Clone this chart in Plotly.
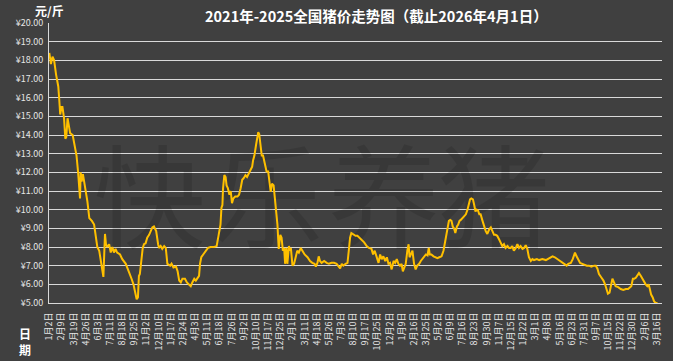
import plotly.graph_objects as go
from datetime import date

# ---------------- data ----------------
dates = [
    "2021-01-02","2021-01-07","2021-01-12","2021-01-17","2021-01-23","2021-01-26","2021-01-30",
    "2021-02-02","2021-02-05","2021-02-09","2021-02-12","2021-02-17","2021-02-21","2021-02-24","2021-02-28",
    "2021-03-04","2021-03-08","2021-03-16","2021-03-23","2021-03-28",
    "2021-04-02","2021-04-06","2021-04-08","2021-04-10","2021-04-13","2021-04-17","2021-04-20","2021-04-26",
    "2021-05-01","2021-05-07","2021-05-15","2021-05-22","2021-05-27",
    "2021-06-01","2021-06-07","2021-06-12","2021-06-17","2021-06-20","2021-06-23","2021-06-25","2021-06-28",
    "2021-07-02","2021-07-08","2021-07-13","2021-07-18","2021-07-23","2021-07-28",
    "2021-08-02","2021-08-11","2021-08-18","2021-08-29",
    "2021-09-08","2021-09-16","2021-09-22","2021-09-27",
    "2021-10-02","2021-10-06","2021-10-09","2021-10-12","2021-10-17","2021-10-21","2021-10-25","2021-10-30",
    "2021-11-04","2021-11-10","2021-11-15","2021-11-20","2021-11-25",
    "2021-12-02","2021-12-08","2021-12-11","2021-12-16","2021-12-21","2021-12-27",
    "2022-01-01","2022-01-06","2022-01-15","2022-01-19","2022-01-25",
    "2022-02-02","2022-02-07","2022-02-12","2022-02-17","2022-02-22",
    "2022-03-02","2022-03-08","2022-03-15","2022-03-20","2022-03-25","2022-03-31",
    "2022-04-05","2022-04-10","2022-04-15","2022-04-18","2022-04-22","2022-04-28",
    "2022-05-06","2022-05-13","2022-05-21",
    "2022-06-01","2022-06-09","2022-06-13","2022-06-17","2022-06-21","2022-06-24","2022-06-27","2022-06-29",
    "2022-07-03","2022-07-07","2022-07-10","2022-07-14","2022-07-19","2022-07-23","2022-07-27","2022-07-31",
    "2022-08-06","2022-08-13","2022-08-18","2022-08-23","2022-08-28",
    "2022-09-02","2022-09-07","2022-09-12","2022-09-18","2022-09-23","2022-09-28",
    "2022-10-01","2022-10-05","2022-10-10","2022-10-14","2022-10-17","2022-10-20","2022-10-24","2022-10-28",
    "2022-11-01","2022-11-04","2022-11-08","2022-11-12","2022-11-17","2022-11-21","2022-11-25","2022-11-29",
    "2022-12-04","2022-12-08","2022-12-12","2022-12-16","2022-12-20","2022-12-25","2022-12-29",
    "2023-01-02","2023-01-06","2023-01-09","2023-01-13","2023-01-16","2023-01-21","2023-01-24","2023-01-27",
    "2023-02-01","2023-02-06","2023-02-11","2023-02-16","2023-02-21","2023-02-27",
    "2023-03-04","2023-03-11","2023-03-20","2023-03-28",
    "2023-04-04","2023-04-11","2023-04-15","2023-04-20","2023-04-24","2023-04-28",
    "2023-05-03","2023-05-11","2023-05-19","2023-05-26",
    "2023-06-03","2023-06-11","2023-06-19","2023-06-24","2023-06-30",
    "2023-07-05","2023-07-10","2023-07-17","2023-07-23","2023-07-27","2023-07-31",
    "2023-08-04","2023-08-11","2023-08-17","2023-08-23","2023-08-29",
    "2023-09-05","2023-09-13","2023-09-21","2023-09-28",
    "2023-10-06","2023-10-11","2023-10-16","2023-10-23","2023-10-28",
    "2023-11-02","2023-11-07","2023-11-12","2023-11-18","2023-11-23","2023-11-28",
    "2023-12-03","2023-12-08","2023-12-14","2023-12-19","2023-12-24","2023-12-29",
    "2024-01-03","2024-01-08","2024-01-12","2024-01-21","2024-01-26","2024-01-30",
    "2024-02-02","2024-02-06","2024-02-11","2024-02-16","2024-02-21","2024-02-26",
    "2024-03-03","2024-03-08","2024-03-13","2024-03-18","2024-03-24","2024-03-29",
    "2024-04-02","2024-04-05","2024-04-10","2024-04-17","2024-04-24","2024-04-29",
    "2024-05-05","2024-05-12","2024-05-18","2024-05-22","2024-05-26","2024-05-30",
    "2024-06-04","2024-06-08","2024-06-12","2024-06-16","2024-06-20","2024-06-24","2024-06-29",
    "2024-07-03","2024-07-07","2024-07-11","2024-07-16","2024-07-21","2024-07-27",
    "2024-08-01","2024-08-05","2024-08-09","2024-08-13","2024-08-18","2024-08-22","2024-08-26","2024-08-30",
    "2024-09-03","2024-09-07","2024-09-11","2024-09-17","2024-09-22","2024-09-27",
    "2024-10-02","2024-10-08","2024-10-13","2024-10-18","2024-10-23","2024-10-28",
    "2024-11-02","2024-11-08","2024-11-13","2024-11-18","2024-11-23","2024-11-28",
    "2024-12-04","2024-12-09","2024-12-14","2024-12-19","2024-12-24","2024-12-30",
    "2025-01-04","2025-01-09","2025-01-14","2025-01-20","2025-01-25","2025-01-30",
    "2025-02-04","2025-02-09","2025-02-15","2025-02-20","2025-02-25",
    "2025-03-06","2025-03-13","2025-03-23",
    "2025-04-03","2025-04-13","2025-04-24",
    "2025-05-01","2025-05-09","2025-05-17","2025-05-25",
    "2025-06-01","2025-06-07","2025-06-12","2025-06-20","2025-06-26","2025-06-30",
    "2025-07-03","2025-07-08","2025-07-13","2025-07-19","2025-07-26",
    "2025-08-03","2025-08-09","2025-08-16","2025-08-23",
    "2025-09-01","2025-09-06","2025-09-11","2025-09-16","2025-09-24","2025-09-30",
    "2025-10-05","2025-10-10","2025-10-14","2025-10-19","2025-10-23","2025-10-28",
    "2025-11-02","2025-11-07","2025-11-15","2025-11-23",
    "2025-12-01","2025-12-09","2025-12-16","2025-12-22","2025-12-26","2025-12-31",
    "2026-01-04","2026-01-09","2026-01-14","2026-01-19","2026-01-25","2026-01-30",
    "2026-02-04","2026-02-09","2026-02-14","2026-02-18","2026-02-22","2026-02-26",
    "2026-03-03","2026-03-07","2026-03-12","2026-03-18",
]

prices = [
    18.4,17.8,18.2,18.0,17.25,16.9,16.6,
    15.9,15.1,15.5,15.5,14.9,13.8,13.9,14.9,
    14.5,14.1,14.0,13.45,12.9,
    12.0,11.3,10.6,12.0,11.5,11.9,11.6,11.05,
    10.45,9.55,9.4,9.2,8.7,
    8.0,7.8,7.25,6.5,6.4,7.8,8.7,8.15,
    8.0,8.15,7.7,8.0,7.7,7.9,
    7.7,7.6,7.35,7.1,
    6.7,6.3,6.0,5.5,
    5.2,5.3,6.45,6.55,7.25,7.95,8.15,8.2,
    8.5,8.65,8.85,9.05,9.1,
    8.85,8.15,7.95,8.05,7.9,8.05,
    7.95,7.1,7.0,7.1,6.9,
    6.95,6.7,6.2,6.1,6.3,
    6.3,6.1,6.0,5.9,6.1,6.3,
    6.2,6.35,6.45,7.1,7.45,7.6,
    7.8,7.95,8.0,
    8.0,8.05,8.4,8.85,9.2,10.1,10.25,11.15,
    11.85,11.75,11.3,11.15,10.8,11.0,10.35,10.6,
    10.7,10.7,10.8,11.15,11.6,
    11.7,11.85,11.75,11.95,12.1,12.3,
    12.65,12.9,13.45,13.9,14.15,14.05,13.6,12.9,
    12.9,12.65,12.3,12.05,12.05,11.5,10.95,11.4,
    11.3,10.6,9.9,9.2,7.9,8.65,8.5,
    7.8,7.95,7.1,7.95,7.1,8.05,7.8,7.95,
    7.0,7.1,7.45,7.8,7.7,7.95,
    7.8,7.6,7.45,7.25,
    7.15,7.1,6.95,7.15,7.5,7.25,
    7.15,7.25,7.15,7.1,
    7.15,7.15,7.1,7.0,6.85,
    7.1,7.0,7.1,7.15,7.8,8.5,
    8.75,8.65,8.6,8.6,8.5,
    8.35,8.25,8.05,7.95,
    7.9,7.6,7.8,7.45,7.15,
    7.6,7.35,7.5,7.25,7.45,7.1,
    7.15,6.8,7.25,7.15,7.35,7.1,
    7.0,7.1,6.7,7.1,7.8,8.15,
    7.45,7.6,7.8,7.1,6.8,7.0,
    7.1,7.25,7.35,7.5,7.6,7.55,
    7.95,7.6,7.6,7.5,7.45,7.4,
    7.45,7.5,7.8,8.15,8.5,8.95,
    9.4,9.45,9.4,9.1,9.0,8.75,9.1,
    9.2,9.4,9.45,9.55,9.65,9.75,
    10.0,10.25,10.55,10.6,10.55,10.25,9.9,10.0,
    9.95,9.75,9.75,9.4,9.05,8.85,
    8.7,8.95,9.05,8.85,8.65,8.65,
    8.6,8.4,8.25,8.05,8.15,7.95,
    8.05,7.95,7.95,8.05,7.8,7.95,
    8.15,7.95,8.05,7.9,7.95,8.1,
    7.9,7.45,7.25,7.35,7.3,
    7.35,7.3,7.35,
    7.3,7.4,7.5,
    7.45,7.35,7.25,7.15,
    7.1,7.0,7.1,7.15,7.35,7.6,
    7.7,7.5,7.35,7.15,7.1,
    7.05,7.0,7.0,6.95,
    7.0,7.0,6.85,6.55,6.35,6.2,
    6.0,5.75,5.5,5.55,6.0,6.3,
    6.1,5.9,5.85,5.75,
    5.7,5.75,5.75,5.85,5.9,6.3,
    6.3,6.35,6.45,6.6,6.45,6.3,
    6.1,6.0,5.9,6.0,5.75,5.45,
    5.3,5.1,5.0,5.0,
]

tick_dates = [
    "2021-01-02","2021-02-09","2021-03-19","2021-04-26","2021-06-03","2021-07-11","2021-08-18",
    "2021-09-25","2021-11-02","2021-12-10","2022-01-17","2022-02-24","2022-04-03","2022-05-11",
    "2022-06-18","2022-07-26","2022-09-02","2022-10-10","2022-11-17","2022-12-25","2023-02-01",
    "2023-03-11","2023-04-18","2023-05-26","2023-07-03","2023-08-10","2023-09-17","2023-10-25",
    "2023-12-02","2024-01-09","2024-02-16","2024-03-25","2024-05-02","2024-06-09","2024-07-16",
    "2024-08-23","2024-09-30","2024-11-07","2024-12-15","2025-01-22","2025-03-01","2025-04-08",
    "2025-05-16","2025-06-23","2025-07-31","2025-09-07","2025-10-15","2025-11-22","2025-12-30",
    "2026-02-06","2026-03-16",
]
tick_labels = [f"{date.fromisoformat(d).month}月{date.fromisoformat(d).day}日" for d in tick_dates]

title_text = "2021年-2025全国猪价走势图（截止2026年4月1日）"
watermark_chars = ["快", "乐", "养", "猪"]

# ---------------- style ----------------
BG = "#404040"
GRID = "#d9d9d9"
LINE = "#FFC000"
TXT = "#e6e6e6"
FONT = "Noto Sans CJK SC"

W, H = 673, 361
L, R, T, B = 49, 10, 23, 56

fig = go.Figure()

# watermark (drawn first so the price line sits above it)
wm_x = ["2021-11-11", "2022-11-14", "2023-11-14", "2024-10-22"]
fig.add_trace(go.Scatter(
    x=wm_x, y=[9.9] * 4, mode="text", text=watermark_chars,
    textfont=dict(family=FONT, size=112, color="rgba(0,0,0,0.12)"),
    hoverinfo="skip", showlegend=False,
))

fig.add_trace(go.Scatter(
    x=dates, y=prices, mode="lines",
    line=dict(color=LINE, width=2),
    showlegend=False,
))

fig.update_layout(
    width=W, height=H,
    margin=dict(l=L, r=R, t=T, b=B, pad=0),
    paper_bgcolor=BG, plot_bgcolor=BG,
    font=dict(family=FONT, color=TXT),
    showlegend=False,
    xaxis=dict(
        type="date",
        range=["2021-01-01", "2026-04-01"],
        tickmode="array", tickvals=tick_dates, ticktext=tick_labels,
        tickangle=-90, tickfont=dict(size=9, color=TXT, family=FONT),
        ticklabelstandoff=5,
        showgrid=False, showline=True, linecolor=GRID, linewidth=1,
        ticks="", zeroline=False, fixedrange=True,
    ),
    yaxis=dict(
        range=[5, 20], dtick=1, tick0=5,
        tickprefix="¥", tickformat=".2f",
        tickfont=dict(size=9, color=TXT, family=FONT),
        ticklabelstandoff=3,
        showgrid=True, gridcolor=GRID, gridwidth=1,
        showline=True, linecolor=GRID, linewidth=1,
        ticks="", zeroline=False, fixedrange=True,
    ),
    annotations=[
        dict(text=f"<b>{title_text}</b>", xref="paper", yref="paper",
             x=(377 - L) / (W - L - R), y=1, yanchor="middle", yshift=8,
             xanchor="center", showarrow=False,
             font=dict(size=14.5, color="#ffffff", family=FONT)),
        dict(text="<b>元/斤</b>", xref="paper", yref="paper",
             x=0, y=1, xanchor="center", yanchor="middle", yshift=13,
             showarrow=False, font=dict(size=12, color="#ffffff", family=FONT)),
        dict(text="<b>日<br>期</b>", xref="paper", yref="paper",
             x=(25 - L) / (W - L - R), y=-(344 - (H - B)) / (H - T - B),
             xanchor="center", yanchor="middle",
             showarrow=False, font=dict(size=12, color="#ffffff", family=FONT)),
    ],
)

fig.write_html(
    "out.html",
    config={"displayModeBar": False, "staticPlot": True},
    post_script="document.body.style.margin='0px';document.body.style.overflow='hidden';",
)
